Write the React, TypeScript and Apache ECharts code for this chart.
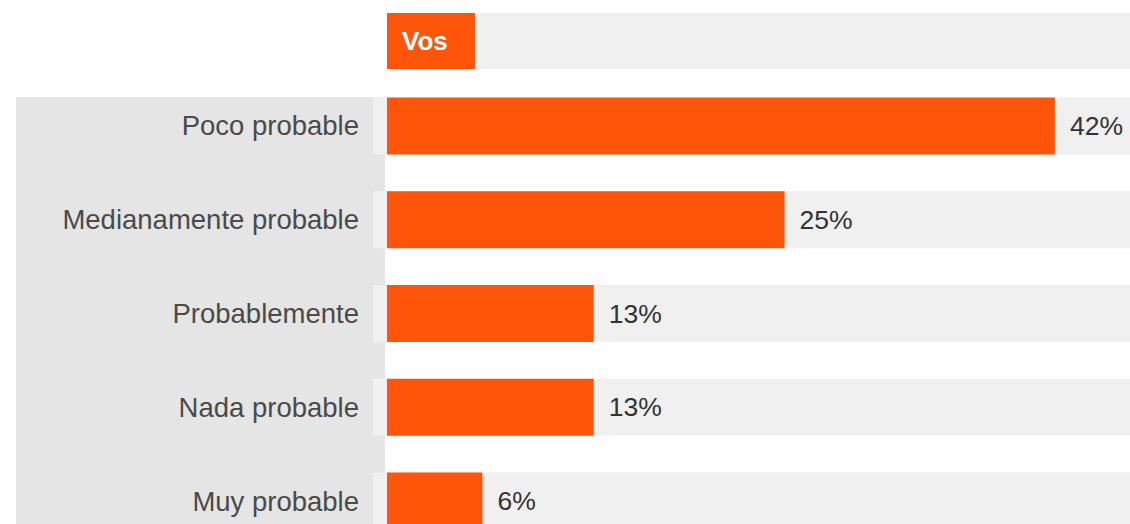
import React, { useEffect, useRef } from "react";
import * as echarts from "echarts";

const categories = ["Poco probable", "Medianamente probable", "Probablemente", "Nada probable", "Muy probable"];
const values = [42, 25, 13, 13, 6];
const headerLabel = "Vos";
const XMIN = -0.88;
const XMAX = 46.72;
const trackNeg = categories.map(() => XMIN);
const trackPos = categories.map(() => XMAX);

const ORANGE = "#FF550A";
const TRACK = "#F0F0F0";
const PANEL = "#E5E5E5";
const FONT = "'Liberation Sans', Arial, Helvetica, sans-serif";

export default function App() {
  const ref = useRef<HTMLDivElement>(null);
  useEffect(() => {
    if (!ref.current) return;
    const chart = echarts.init(ref.current, undefined, { renderer: "svg" });
    chart.setOption({
      animation: false,
      backgroundColor: "#ffffff",
      textStyle: { fontFamily: FONT },
      graphic: [
        { type: "rect", z: 0, shape: { x: 16, y: 97, width: 369, height: 460 }, style: { fill: PANEL } },
        { type: "rect", z: 0, shape: { x: 387, y: 13, width: 743, height: 56 }, style: { fill: TRACK } },
        { type: "rect", z: 1, shape: { x: 387, y: 13, width: 88, height: 56 }, style: { fill: ORANGE } },
        {
          type: "text",
          z: 2,
          x: 402,
          y: 41,
          style: {
            text: headerLabel,
            fill: "#ffffff",
            font: `bold 26px ${FONT}`,
            verticalAlign: "middle",
            align: "left",
          },
        },
      ],
      grid: { left: 373, right: 0, top: 79, bottom: 0, containLabel: false, outerBoundsMode: "none" },
      xAxis: {
        type: "value",
        min: XMIN,
        max: XMAX,
        show: false,
        splitLine: { show: false },
      },
      yAxis: {
        type: "category",
        data: categories,
        inverse: true,
        axisLine: { show: false },
        axisTick: { show: false },
        axisLabel: {
          margin: 14,
          fontSize: 27.5,
          color: "#4a4a4a",
          fontFamily: FONT,
        },
      },
      series: [
        {
          type: "bar",
          stack: "track",
          data: trackNeg,
          barWidth: 57,
          barGap: "-100%",
          itemStyle: { color: TRACK },
          silent: true,
          z: 2,
        },
        {
          type: "bar",
          stack: "track",
          data: trackPos,
          barWidth: 57,
          barGap: "-100%",
          itemStyle: { color: TRACK },
          silent: true,
          z: 2,
        },
        {
          type: "bar",
          data: values,
          barWidth: 57,
          barGap: "-100%",
          itemStyle: { color: ORANGE },
          z: 3,
          label: {
            show: true,
            position: "right",
            distance: 15,
            formatter: "{c}%",
            fontSize: 26.5,
            color: "#333333",
            fontFamily: FONT,
          },
        },
      ],
    });
    return () => chart.dispose();
  }, []);
  return (
    <div style={{ position: "absolute", left: 0, top: 0, width: 1130, height: 524, overflow: "hidden" }}>
      <div ref={ref} style={{ width: 1130, height: 548 }} />
    </div>
  );
}
